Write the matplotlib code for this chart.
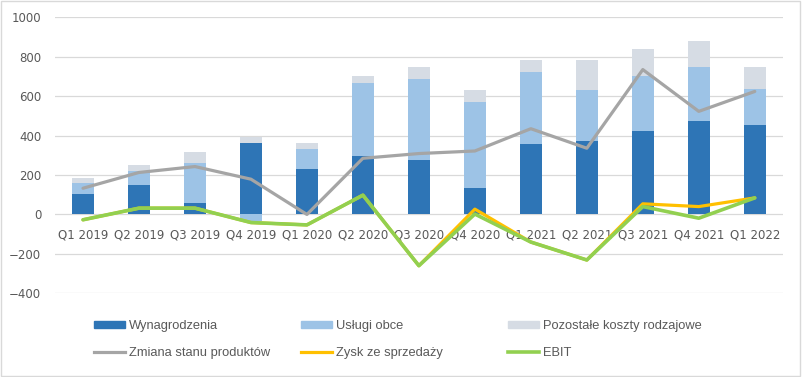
import numpy as np
import matplotlib
matplotlib.use("Agg")
import matplotlib.pyplot as plt
from matplotlib.patches import Patch, Rectangle
from matplotlib.lines import Line2D

quarters = ["Q1 2019", "Q2 2019", "Q3 2019", "Q4 2019", "Q1 2020", "Q2 2020", "Q3 2020",
            "Q4 2020", "Q1 2021", "Q2 2021", "Q3 2021", "Q4 2021", "Q1 2022"]
wynagrodzenia = [103, 148, 57, 361, 229, 295, 275, 133, 355, 371, 421, 472, 456]
uslugi_obce = [55, 71, 203, -34, 102, 370, 410, 435, 370, 258, 279, 274, 178]
pozostale = [26, 31, 55, 30, 30, 35, 61, 61, 61, 157, 137, 136, 112]
zmiana_stanu = [133, 213, 243, 179, 0, 285, 309, 322, 435, 336, 735, 523, 624]
zysk_sprzedazy = [-27, 32, 32, -41, -53, 98, -260, 27, -140, -231, 54, 40, 84]
ebit = [-27, 32, 32, -41, -53, 98, -260, 2, -140, -231, 40, -19, 84]

c_dark = "#2E75B6"
c_light = "#9DC3E6"
c_pale = "#D6DCE4"
c_grey = "#A5A5A5"
c_orange = "#FFC000"
c_green = "#92D050"
txt = "#595959"

fig = plt.figure(figsize=(8.02, 3.77), dpi=100)
ax = fig.add_axes([0.0686, 0.222, 0.9074, 0.732])

x = np.arange(len(quarters))
w = 0.39
pos_bottom = np.zeros(len(x))
neg_bottom = np.zeros(len(x))
for vals, col in [(wynagrodzenia, c_dark), (uslugi_obce, c_light), (pozostale, c_pale)]:
    v = np.array(vals, dtype=float)
    b = np.where(v >= 0, pos_bottom, neg_bottom)
    ax.bar(x, v, w, bottom=b, color=col, zorder=2)
    pos_bottom += np.where(v >= 0, v, 0)
    neg_bottom += np.where(v < 0, v, 0)

ax.plot(x, zmiana_stanu, color=c_grey, lw=2.3, zorder=3, solid_capstyle="round")
ax.plot(x, zysk_sprzedazy, color=c_orange, lw=2.3, zorder=4, solid_capstyle="round")
ax.plot(x, ebit, color=c_green, lw=2.6, zorder=5, solid_capstyle="round")

ax.set_xlim(-0.5, len(x) - 0.5)
ax.set_ylim(-400, 1000)
ax.set_yticks(range(-400, 1001, 200))
ax.grid(axis="y", color="#D9D9D9", lw=0.9, zorder=0)
for s in ax.spines.values():
    s.set_visible(False)
ax.spines["bottom"].set_position(("data", 0))
ax.set_xticks(x)
ax.set_xticklabels(quarters)
ax.tick_params(axis="x", length=0, pad=10, labelsize=8.5, labelcolor=txt)
ax.tick_params(axis="y", length=0, pad=10, labelsize=8.5, labelcolor=txt)

# legend, three fixed columns (207 px apart)
cols = [
    [Patch(color=c_dark, label="Wynagrodzenia"),
     Line2D([], [], color=c_grey, lw=2.3, label="Zmiana stanu produktów")],
    [Patch(color=c_light, label="Usługi obce"),
     Line2D([], [], color=c_orange, lw=2.3, label="Zysk ze sprzedaży")],
    [Patch(color=c_pale, label="Pozostałe koszty rodzajowe"),
     Line2D([], [], color=c_green, lw=2.6, label="EBIT")],
]
for i, hs in enumerate(cols):
    fig.legend(handles=hs, loc="upper left",
               bbox_to_anchor=((94 + i * 207) / 802, 1 - 320 / 377),
               frameon=False, borderpad=0, borderaxespad=0,
               handlelength=2.4, handleheight=0.5, handletextpad=0.3,
               labelspacing=1.18, prop={"family": "Liberation Sans", "size": 9.3},
               labelcolor=txt)

fig.patches.append(Rectangle((0.001, 0.002), 0.997, 0.995, transform=fig.transFigure,
                             fill=False, ec="#D9D9D9", lw=1))

fig.savefig("out.png", dpi=100)
